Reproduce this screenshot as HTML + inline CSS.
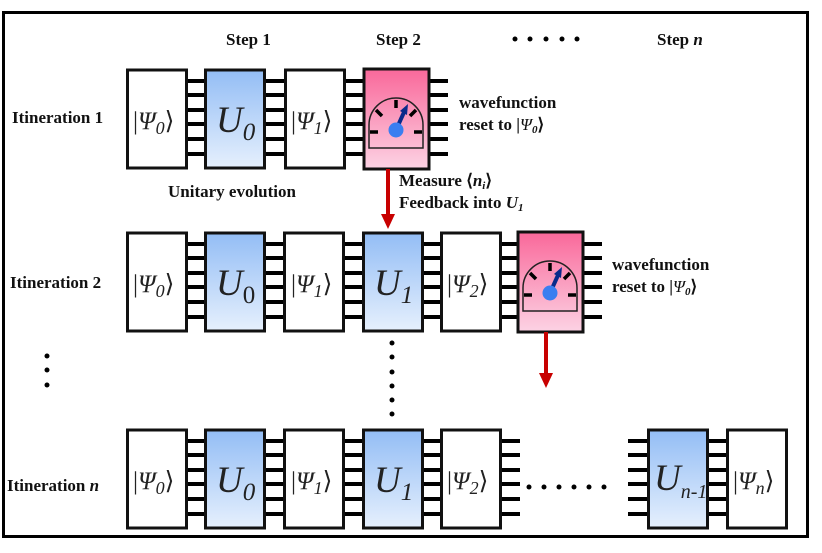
<!DOCTYPE html>
<html><head><meta charset="utf-8"><style>
html,body{margin:0;padding:0;background:#fff;}
svg{display:block;}
.t{font-family:"Liberation Serif",serif;font-weight:bold;font-size:17px;fill:#111;}
.k{font-family:"Liberation Serif",serif;font-size:25px;fill:#222;}
.u{font-family:"Liberation Serif",serif;font-style:italic;font-size:37px;fill:#222;}
</style></head><body>
<svg width="822" height="553" viewBox="0 0 822 553" xmlns="http://www.w3.org/2000/svg">
<defs>
<linearGradient id="gb" x1="0" y1="0" x2="0" y2="1"><stop offset="0" stop-color="#93bdf5"/><stop offset="1" stop-color="#e6f0fd"/></linearGradient>
<linearGradient id="gp" x1="0" y1="0" x2="0" y2="1"><stop offset="0" stop-color="#f9689a"/><stop offset="1" stop-color="#fcd3e4"/></linearGradient>
<g id="L"><g stroke="#000" stroke-width="4"><line x1="0" y1="11" x2="20" y2="11"/><line x1="0" y1="25" x2="20" y2="25"/><line x1="0" y1="40" x2="20" y2="40"/><line x1="0" y1="54" x2="20" y2="54"/><line x1="0" y1="69" x2="20" y2="69"/><line x1="0" y1="84" x2="20" y2="84"/></g></g>
<g id="M">
<rect x="0" y="0" width="65" height="100" fill="url(#gp)" stroke="#111" stroke-width="3"/>
<path d="M5 79 L5 56 A27 27 0 0 1 59 56 L59 79 Z" fill="none" stroke="#222" stroke-width="1.5"/>
<g stroke="#000" stroke-width="3.5"><line x1="6" y1="63" x2="14" y2="63"/><line x1="50" y1="63" x2="58" y2="63"/><line x1="12" y1="41" x2="18" y2="47"/><line x1="32" y1="31" x2="32" y2="39"/><line x1="52" y1="41" x2="46" y2="47"/></g>
<line x1="32" y1="61" x2="41" y2="41" stroke="#0a2a8a" stroke-width="4"/>
<polygon points="44,35 43,46 36,42" fill="#0a2a8a"/>
<circle cx="32" cy="61" r="7.5" fill="#3a7ef0"/>
</g>
</defs>
<rect x="3.5" y="12.5" width="804" height="524" fill="none" stroke="#000" stroke-width="3"/>

<text class="t" x="226" y="45">Step 1</text>
<text class="t" x="376" y="45">Step 2</text>
<text class="t" x="657" y="45">Step <tspan font-style="italic">n</tspan></text>
<g fill="#000"><circle cx="515" cy="39" r="2.5"/><circle cx="530" cy="39" r="2.5"/><circle cx="546" cy="39" r="2.5"/><circle cx="562" cy="39" r="2.5"/><circle cx="577" cy="39" r="2.5"/></g>

<text class="t" x="12" y="123">Itineration 1</text>
<text class="t" x="10" y="288">Itineration 2</text>
<text class="t" x="7" y="491">Itineration <tspan font-style="italic">n</tspan></text>

<!-- Row 1 -->
<g transform="translate(0,70)">
<use href="#L" x="186"/><use href="#L" x="264"/><use href="#L" x="344"/><use href="#L" x="428"/>
<rect x="127.5" y="0" width="59" height="98" fill="#fff" stroke="#111" stroke-width="3"/>
<rect x="205.5" y="0" width="59" height="98" fill="url(#gb)" stroke="#111" stroke-width="3"/>
<rect x="285.5" y="0" width="59" height="98" fill="#fff" stroke="#111" stroke-width="3"/>
<use href="#M" x="364" y="-1"/>
<text class="k" x="133" y="59">|<tspan font-style="italic">Ψ</tspan><tspan font-style="italic" font-size="18" dy="5">0</tspan><tspan dy="-5">⟩</tspan></text>
<text class="u" x="216" y="62">U<tspan font-size="25" dy="8">0</tspan></text>
<text class="k" x="291" y="59">|<tspan font-style="italic">Ψ</tspan><tspan font-style="italic" font-size="18" dy="5">1</tspan><tspan dy="-5">⟩</tspan></text>
</g>
<text class="t" x="459" y="108">wavefunction</text>
<text class="t" x="459" y="130">reset to |<tspan font-style="italic" font-weight="normal">Ψ</tspan><tspan font-size="11" font-style="italic" dy="3">0</tspan><tspan dy="-3">⟩</tspan></text>
<text class="t" x="168" y="197">Unitary evolution</text>
<text class="t" x="399" y="186">Measure  ⟨<tspan font-style="italic">n</tspan><tspan font-size="11" font-style="italic" dy="3">i</tspan><tspan dy="-3">⟩</tspan></text>
<text class="t" x="399" y="208">Feedback into <tspan font-style="italic">U</tspan><tspan font-size="11" font-style="italic" dy="3">1</tspan></text>
<line x1="388" y1="169" x2="388" y2="216" stroke="#c80000" stroke-width="4"/>
<polygon points="381,214 395,214 388,229" fill="#c80000"/>

<!-- Row 2 -->
<g transform="translate(0,233)">
<use href="#L" x="186"/><use href="#L" x="264"/><use href="#L" x="343"/><use href="#L" x="422"/><use href="#L" x="500"/><use href="#L" x="582"/>
<rect x="127.5" y="0" width="59" height="98" fill="#fff" stroke="#111" stroke-width="3"/>
<rect x="205.5" y="0" width="59" height="98" fill="url(#gb)" stroke="#111" stroke-width="3"/>
<rect x="284.5" y="0" width="59" height="98" fill="#fff" stroke="#111" stroke-width="3"/>
<rect x="363.5" y="0" width="59" height="98" fill="url(#gb)" stroke="#111" stroke-width="3"/>
<rect x="441.5" y="0" width="59" height="98" fill="#fff" stroke="#111" stroke-width="3"/>
<use href="#M" x="518" y="-1"/>
<text class="k" x="133" y="59">|<tspan font-style="italic">Ψ</tspan><tspan font-style="italic" font-size="18" dy="5">0</tspan><tspan dy="-5">⟩</tspan></text>
<text class="u" x="216" y="62">U<tspan font-size="25" font-style="normal" dy="8">0</tspan></text>
<text class="k" x="291" y="59">|<tspan font-style="italic">Ψ</tspan><tspan font-style="italic" font-size="18" dy="5">1</tspan><tspan dy="-5">⟩</tspan></text>
<text class="u" x="374" y="62">U<tspan font-size="25" dy="8">1</tspan></text>
<text class="k" x="447" y="59">|<tspan font-style="italic">Ψ</tspan><tspan font-style="italic" font-size="18" dy="5">2</tspan><tspan dy="-5">⟩</tspan></text>
</g>
<text class="t" x="612" y="270">wavefunction</text>
<text class="t" x="612" y="292">reset to |<tspan font-style="italic" font-weight="normal">Ψ</tspan><tspan font-size="11" font-style="italic" dy="3">0</tspan><tspan dy="-3">⟩</tspan></text>
<line x1="546" y1="332" x2="546" y2="375" stroke="#c80000" stroke-width="4"/>
<polygon points="539,373 553,373 546,388" fill="#c80000"/>

<g fill="#000"><circle cx="392" cy="343" r="2.5"/><circle cx="392" cy="357" r="2.5"/><circle cx="392" cy="372" r="2.5"/><circle cx="392" cy="386" r="2.5"/><circle cx="392" cy="400" r="2.5"/><circle cx="392" cy="414" r="2.5"/>
<circle cx="47" cy="356" r="2.5"/><circle cx="47" cy="370" r="2.5"/><circle cx="47" cy="385" r="2.5"/></g>

<!-- Row 3 -->
<g transform="translate(0,430)">
<use href="#L" x="186"/><use href="#L" x="264"/><use href="#L" x="343"/><use href="#L" x="422"/><use href="#L" x="500"/><use href="#L" x="628"/><use href="#L" x="708"/>
<rect x="127.5" y="0" width="59" height="98" fill="#fff" stroke="#111" stroke-width="3"/>
<rect x="205.5" y="0" width="59" height="98" fill="url(#gb)" stroke="#111" stroke-width="3"/>
<rect x="284.5" y="0" width="59" height="98" fill="#fff" stroke="#111" stroke-width="3"/>
<rect x="363.5" y="0" width="59" height="98" fill="url(#gb)" stroke="#111" stroke-width="3"/>
<rect x="441.5" y="0" width="59" height="98" fill="#fff" stroke="#111" stroke-width="3"/>
<rect x="648.5" y="0" width="59" height="98" fill="url(#gb)" stroke="#111" stroke-width="3"/>
<rect x="727.5" y="0" width="59" height="98" fill="#fff" stroke="#111" stroke-width="3"/>
<text class="k" x="133" y="59">|<tspan font-style="italic">Ψ</tspan><tspan font-style="italic" font-size="18" dy="5">0</tspan><tspan dy="-5">⟩</tspan></text>
<text class="u" x="216" y="62">U<tspan font-size="25" dy="8">0</tspan></text>
<text class="k" x="291" y="59">|<tspan font-style="italic">Ψ</tspan><tspan font-style="italic" font-size="18" dy="5">1</tspan><tspan dy="-5">⟩</tspan></text>
<text class="u" x="374" y="62">U<tspan font-size="25" dy="8">1</tspan></text>
<text class="k" x="447" y="59">|<tspan font-style="italic">Ψ</tspan><tspan font-style="italic" font-size="18" dy="5">2</tspan><tspan dy="-5">⟩</tspan></text>
<text class="u" x="654" y="60">U<tspan font-size="20" dy="8">n-1</tspan></text>
<text class="k" x="733" y="59">|<tspan font-style="italic">Ψ</tspan><tspan font-style="italic" font-size="18" dy="5">n</tspan><tspan dy="-5">⟩</tspan></text>
<g fill="#000"><circle cx="529" cy="57" r="2.5"/><circle cx="544" cy="57" r="2.5"/><circle cx="559" cy="57" r="2.5"/><circle cx="574" cy="57" r="2.5"/><circle cx="589" cy="57" r="2.5"/><circle cx="604" cy="57" r="2.5"/></g>
</g>
</svg>
</body></html>
